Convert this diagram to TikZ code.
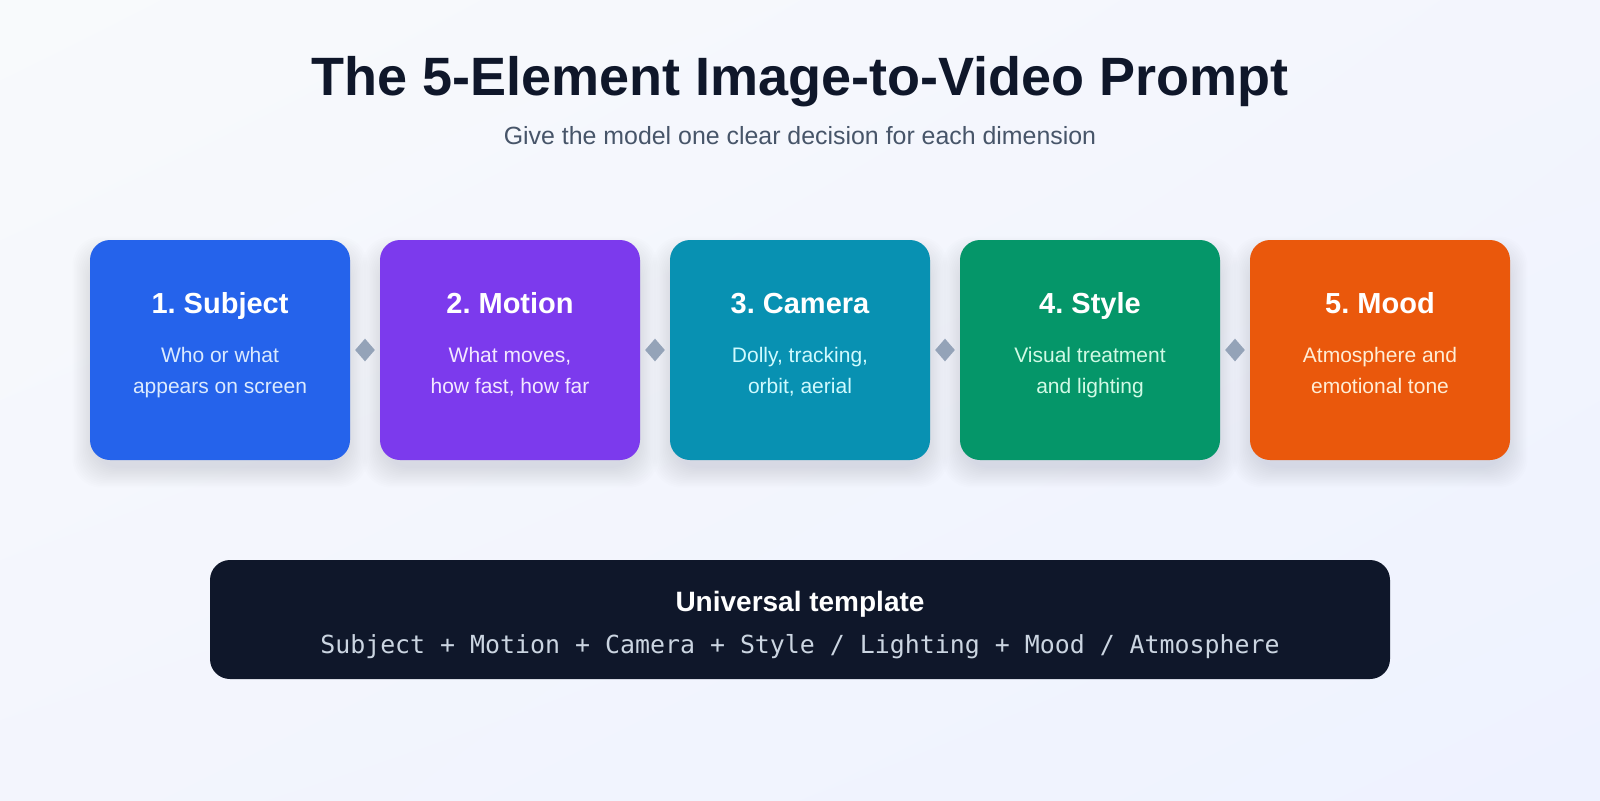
\documentclass[tikz,border=0pt]{standalone}
\usepackage{fontspec}
\setmainfont{Liberation Sans}
\newfontfamily\monof{DejaVu Sans Mono}
\usetikzlibrary{shapes.geometric,calc,shadings}
\frenchspacing
\definecolor{bgA}{HTML}{F8FAFC}
\definecolor{bgB}{HTML}{EEF2FF}
\definecolor{bgM}{HTML}{F3F5FD}
\definecolor{titlec}{HTML}{0F172A}
\definecolor{subc}{HTML}{475569}
\definecolor{cblue}{HTML}{2563EB}
\definecolor{cpurple}{HTML}{7C3AED}
\definecolor{ccyan}{HTML}{0891B2}
\definecolor{cgreen}{HTML}{059669}
\definecolor{corange}{HTML}{EA580C}
\definecolor{dblue}{HTML}{DBEAFE}
\definecolor{dpurple}{HTML}{F3E8FF}
\definecolor{dcyan}{HTML}{CFFAFE}
\definecolor{dgreen}{HTML}{D1FAE5}
\definecolor{dorange}{HTML}{FFEDD5}
\definecolor{diamc}{HTML}{94A3B8}
\definecolor{darkc}{HTML}{0F172A}
\definecolor{monoc}{HTML}{CBD5E1}
\definecolor{shadc}{HTML}{475569}
\tikzset{
  card/.style={rectangle, rounded corners=10pt, minimum width=130pt, minimum height=110pt, inner sep=0pt},
  darkbox/.style={rectangle, rounded corners=10pt, fill=darkc, minimum width=590pt, minimum height=59.5pt, inner sep=0pt},
  sep/.style={diamond, fill=diamc, minimum width=10pt, minimum height=11.5pt, inner sep=0pt},
  cardtitle/.style={anchor=base, text=white, inner sep=0pt, font=\fontsize{14.5pt}{17pt}\selectfont\bfseries},
  carddesc/.style={anchor=base, inner sep=0pt, font=\fontsize{10.5pt}{13pt}\selectfont},
  shadowlayer/.style={fill=shadc, opacity=0.009, rounded corners=14pt}
}
\begin{document}
\begin{tikzpicture}[x=0.5pt,y=-0.5pt]
\shade[upper left=bgA, lower right=bgB, upper right=bgM, lower left=bgM] (0,0) rectangle (1600,800);
\useasboundingbox (0,0) rectangle (1600,800);

\node[anchor=base, inner sep=0pt, text=titlec, font=\fontsize{27pt}{33pt}\selectfont\bfseries] (title) at (800,95) {The 5-Element Image-to-Video Prompt};
\node[anchor=base, inner sep=0pt, text=subc, font=\fontsize{12.45pt}{15pt}\selectfont] (subtitle) at (800,144) {Give the model one clear decision for each dimension};

% soft card shadows
\foreach \x in {220,510,800,1090,1380}{
  \coordinate (s) at (\x,350);
  \foreach \k in {0,...,13}{
    \fill[shadowlayer] ($(s)+(-128-\k*1.5,-104-\k*1.5+10)$) rectangle ($(s)+(128+\k*1.5,108+\k*1.5+10)$);
  }
}
\node[card, fill=cblue] (b1) at (220,350) {};
\node[card, fill=cpurple] (b2) at (510,350) {};
\node[card, fill=ccyan] (b3) at (800,350) {};
\node[card, fill=cgreen] (b4) at (1090,350) {};
\node[card, fill=corange] (b5) at (1380,350) {};

\node[cardtitle] (t1) at (220,313) {1. Subject};
\node[carddesc, text=dblue] (d1a) at (220,362) {Who or what};
\node[carddesc, text=dblue] (d1b) at (220,393) {appears on screen};

\node[cardtitle] (t2) at (510,313) {2. Motion};
\node[carddesc, text=dpurple] (d2a) at (510,362) {What moves,};
\node[carddesc, text=dpurple] (d2b) at (510,393) {how fast, how far};

\node[cardtitle] (t3) at (800,313) {3. Camera};
\node[carddesc, text=dcyan] (d3a) at (800,362) {Dolly, tracking,};
\node[carddesc, text=dcyan] (d3b) at (800,393) {orbit, aerial};

\node[cardtitle] (t4) at (1090,313) {4. Style};
\node[carddesc, text=dgreen] (d4a) at (1090,362) {Visual treatment};
\node[carddesc, text=dgreen] (d4b) at (1090,393) {and lighting};

\node[cardtitle] (t5) at (1380,313) {5. Mood};
\node[carddesc, text=dorange] (d5a) at (1380,362) {Atmosphere and};
\node[carddesc, text=dorange] (d5b) at (1380,393) {emotional tone};

\node[sep] (m1) at ($(b1.east)!0.5!(b2.west)$) {};
\node[sep] (m2) at ($(b2.east)!0.5!(b3.west)$) {};
\node[sep] (m3) at ($(b3.east)!0.5!(b4.west)$) {};
\node[sep] (m4) at ($(b4.east)!0.5!(b5.west)$) {};

% template box
\node[darkbox] (tpl) at (800,619.5) {};
\node[anchor=base, inner sep=0pt, text=white, font=\fontsize{14pt}{17pt}\selectfont\bfseries] (tpltitle) at (800,611) {Universal template};
\node[anchor=base, inner sep=0pt, text=monoc, font=\fontsize{12.45pt}{15pt}\selectfont\monof] (tpltext) at (800,653) {Subject + Motion + Camera + Style / Lighting + Mood / Atmosphere};
\end{tikzpicture}
\end{document}
